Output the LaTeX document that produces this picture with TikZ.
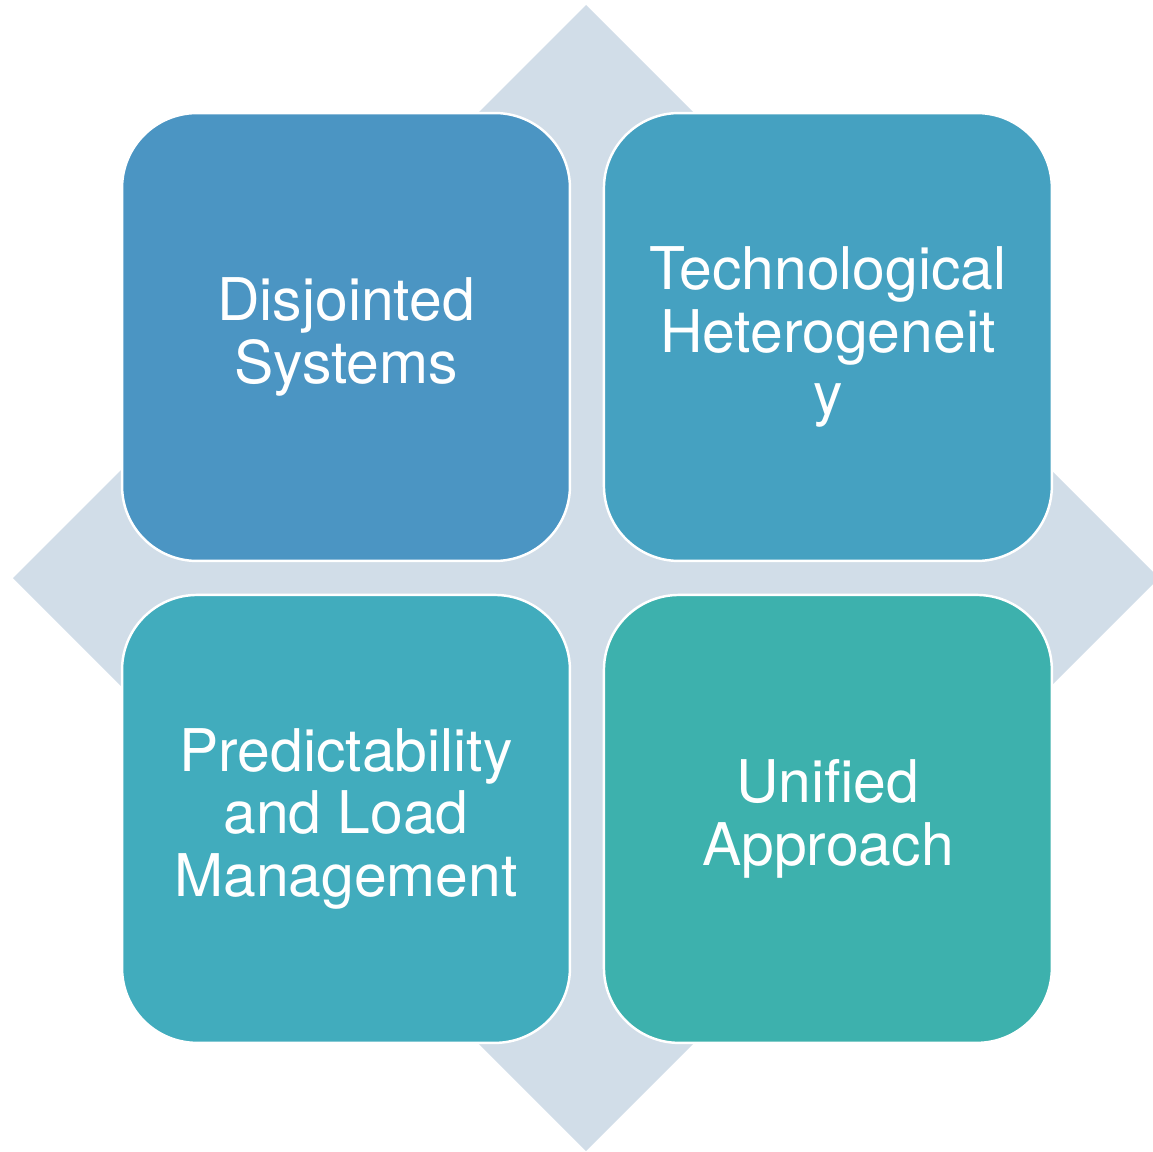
\documentclass[tikz,border=0pt]{standalone}
\usepackage{fontspec}
\setmainfont{TeX Gyre Heros}
\usetikzlibrary{positioning}

\definecolor{diamondgrey}{HTML}{D1DDE8}
\definecolor{tileone}{HTML}{4B95C3}
\definecolor{tiletwo}{HTML}{45A1C1}
\definecolor{tilethree}{HTML}{41ACBD}
\definecolor{tilefour}{HTML}{3DB1AD}

\begin{document}
\begin{tikzpicture}[x=0.02cm, y=-0.02cm]
  \tikzset{tilestyle/.style={draw=white, line width=1.4pt, rounded corners=1.5cm, minimum size=8.96cm, inner sep=0pt, outer sep=0pt, text=white, align=center, font=\fontsize{33.5}{35.5}\selectfont}}
  \useasboundingbox (0,0) rectangle (1153,1152);
  \clip (0,0) rectangle (1153,1152);
  % grey diamond behind the tiles
  \fill[diamondgrey] (586,5) -- (1159,578) -- (586,1151) -- (13,578) -- cycle;
  % the four tiles
  \node[tilestyle, fill=tileone] (disjointed) at (346,337) {Disjointed\\Systems};
  \node[tilestyle, fill=tiletwo, right=0.68cm of disjointed] (hetero) {Technological\\Heterogeneit\\y};
  \node[tilestyle, fill=tilethree, below=0.68cm of disjointed] (predict) {Predictability\\and Load\\Management};
  \node[tilestyle, fill=tilefour, below=0.68cm of hetero] (unified) {Unified\\Approach};
\end{tikzpicture}
\end{document}
